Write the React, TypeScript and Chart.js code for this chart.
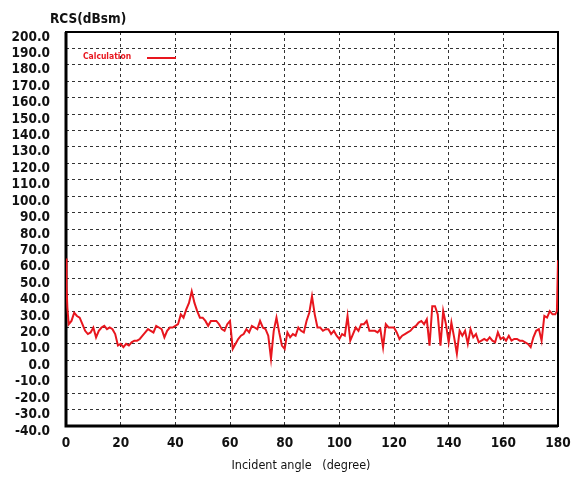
import React, { useEffect, useRef } from "react";
import { Chart, registerables } from "chart.js";

Chart.register(...registerables);

// Incident angle (degree)
const angles: number[] = [
  0, 0.2, 0.5,
  1, 2, 3, 4, 5, 6, 7, 8, 9, 10,
  11, 12, 13, 14, 15, 16, 17, 18, 19, 20,
  21, 22, 23, 24, 25, 26, 27, 28, 29, 30,
  31, 32, 33, 34, 35, 36, 37, 38, 39, 40,
  41, 42, 43, 44, 45, 46, 47, 48, 49, 50,
  51, 52, 53, 54, 55, 56, 57, 58, 59, 60,
  61, 62, 63, 64, 65, 66, 67, 68, 69, 70,
  71, 72, 73, 74, 75, 76, 77, 78, 79, 80,
  81, 82, 83, 84, 85, 86, 87, 88, 89, 90,
  91, 92, 93, 94, 95, 96, 97, 98, 99, 100,
  101, 102, 103, 104, 105, 106, 107, 108, 109, 110,
  111, 112, 113, 114, 115, 116, 117, 118, 119, 120,
  121, 122, 123, 124, 125, 126, 127, 128, 129, 130,
  131, 132, 133, 134, 135, 136, 137, 138, 139, 140,
  141, 142, 143, 144, 145, 146, 147, 148, 149, 150,
  151, 152, 153, 154, 155, 156, 157, 158, 159, 160,
  161, 162, 163, 164, 165, 166, 167, 168, 169, 170,
  171, 172, 173, 174, 175, 176, 177, 178, 179,
  179.6, 180,
];

// RCS (dBsm), "Calculation"
const rcsCalculation: number[] = [
  62, 45, 32,
  22, 24, 29, 27, 26, 22, 18, 16, 17, 20,
  14, 18, 20, 21, 19, 20, 19, 16, 9, 10,
  8, 10, 9, 11, 12, 12, 13, 15, 17, 19,
  18, 17, 21, 20, 19, 14, 18, 20, 20, 21,
  22, 28, 26, 31, 35, 42, 35, 30, 26, 26,
  24, 21, 24, 24, 24, 22, 19, 18, 22, 24,
  7, 10, 13, 15, 16, 19, 17, 21, 20, 19,
  24, 20, 19, 15, 1, 18, 26, 17, 9, 7,
  17, 14, 16, 15, 20, 18, 17, 24, 29, 39,
  28, 20, 20, 18, 19, 19, 16, 18, 15, 13,
  16, 15, 27, 12, 16, 20, 18, 22, 22, 24,
  18, 18, 18, 17, 19, 8, 22, 20, 20, 20,
  17, 13, 15, 16, 17, 18, 20, 21, 23, 24,
  22, 25, 9, 33, 33, 28, 9, 30, 22, 11,
  23, 14, 4, 18, 15, 18, 10, 19, 14, 16,
  11, 12, 13, 12, 14, 12, 11, 17, 13, 14,
  12, 15, 12, 13, 13, 12, 12, 11, 10, 8,
  14, 18, 19, 12, 27, 26, 30, 28, 28,
  30, 61,
];

const seriesName = "Calculation";
const yTitle = "RCS(dBsm)";
const xTitle = "Incident angle   (degree)";
const yMin = -40;
const yMax = 200;
const yStep = 10;
const xMin = 0;
const xMax = 180;
const xStep = 20;

const RED = "rgb(232,22,30)";
const FONT = "'DejaVu Sans Condensed', 'Liberation Sans', sans-serif";

const decorPlugin = {
  id: "decor",
  beforeDatasetsDraw(chart: any) {
    const { ctx, chartArea: a } = chart;
    ctx.save();
    ctx.strokeStyle = "#000";
    ctx.lineWidth = 2;
    ctx.strokeRect(a.left, a.top, a.right - a.left, a.bottom - a.top);
    ctx.lineWidth = 3;
    ctx.beginPath();
    ctx.moveTo(a.left, a.top);
    ctx.lineTo(a.left, a.bottom);
    ctx.lineTo(a.right, a.bottom);
    ctx.stroke();
    ctx.restore();
  },
  afterDraw(chart: any) {
    const { ctx, chartArea: a } = chart;
    ctx.save();
    // y-axis title
    ctx.fillStyle = "#111";
    ctx.font = `bold 13.5px ${FONT}`;
    ctx.textAlign = "left";
    ctx.textBaseline = "middle";
    ctx.fillText(yTitle, 50, 19);
    // x-axis title
    ctx.font = `12.5px ${FONT}`;
    ctx.textAlign = "center";
    ctx.fillText(xTitle, 301, 466);
    // legend
    ctx.fillStyle = RED;
    ctx.font = `bold 8.5px ${FONT}`;
    ctx.textAlign = "left";
    ctx.fillText(seriesName, a.left + 17, 57);
    ctx.strokeStyle = RED;
    ctx.lineWidth = 2;
    ctx.beginPath();
    ctx.moveTo(a.left + 81, 58);
    ctx.lineTo(a.left + 110, 58);
    ctx.stroke();
    ctx.restore();
  },
};

export default function App() {
  const ref = useRef<HTMLCanvasElement | null>(null);

  useEffect(() => {
    if (!ref.current) return;
    const chart = new Chart(ref.current, {
      type: "line",
      data: {
        datasets: [
          {
            label: seriesName,
            data: angles.map((x, i) => ({ x, y: rcsCalculation[i] })),
            borderColor: RED,
            backgroundColor: RED,
            borderWidth: 2,
            pointRadius: 0,
            tension: 0,
          },
        ],
      },
      options: {
        animation: false,
        responsive: false,
        devicePixelRatio: 1,
        layout: { padding: { top: 32, right: 13, left: 0, bottom: 0 } },
        plugins: {
          legend: { display: false },
          tooltip: { enabled: false },
          title: { display: false },
        },
        scales: {
          x: {
            type: "linear",
            min: xMin,
            max: xMax,
            afterFit(scale: any) {
              scale.height = 56;
              scale.paddingLeft = 0;
              scale.paddingRight = 0;
              scale.paddingTop = 0;
              scale.paddingBottom = 0;
            },
            ticks: {
              stepSize: xStep,
              autoSkip: false,
              padding: 9,
              color: "#111",
              font: { family: FONT, size: 13.5, weight: "bold" },
            },
            grid: { color: "#333", lineWidth: 1, drawTicks: false },
            border: { display: false, dash: [3, 3] },
          },
          y: {
            min: yMin,
            max: yMax,
            afterFit(scale: any) {
              scale.width = 66;
              scale.paddingLeft = 0;
              scale.paddingRight = 0;
              scale.paddingTop = 0;
              scale.paddingBottom = 0;
            },
            ticks: {
              stepSize: yStep,
              autoSkip: false,
              padding: 16,
              labelOffset: 5,
              color: "#111",
              font: { family: FONT, size: 13.5, weight: "bold" },
              callback: (v: any) => Number(v).toFixed(1),
            },
            grid: { color: "#333", lineWidth: 1, drawTicks: false },
            border: { display: false, dash: [3, 3] },
          },
        },
      },
      plugins: [decorPlugin],
    });
    return () => chart.destroy();
  }, []);

  return (
    <div style={{ position: "fixed", left: 0, top: 0, width: 571, height: 482, background: "#fff" }}>
      <canvas ref={ref} width={571} height={482} style={{ display: "block" }} />
    </div>
  );
}
